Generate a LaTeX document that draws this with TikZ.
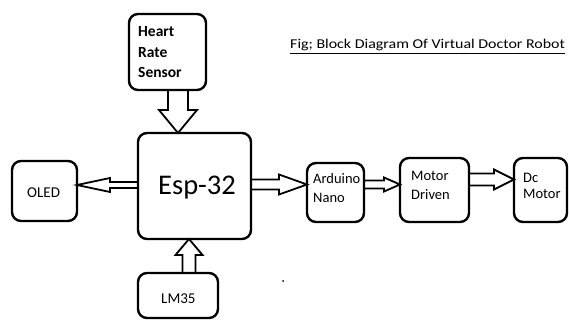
\documentclass[tikz,border=0pt]{standalone}
\usepackage{fontspec}
\setmainfont{Carlito}
\newfontfamily\titlefont[FakeStretch=1.18]{Carlito}
\usetikzlibrary{calc}
\newcommand\blockarr[5]{%
  \coordinate (bA) at ($(#2)!#5!(#1)$);
  \draw[barrow] ($(#1)!#3!90:(#2)$) -- ($(bA)!#3!90:(#2)$) -- ($(bA)!#4!90:(#2)$)
    -- (#2) -- ($(bA)!#4!-90:(#2)$) -- ($(bA)!#3!-90:(#2)$) -- ($(#1)!#3!-90:(#2)$) -- cycle;
}
\begin{document}
\begin{tikzpicture}[x=1pt,y=-1pt,
  box/.style={draw, line width=2.4pt, rounded corners=9pt, inner sep=0pt, outer sep=0pt},
  barrow/.style={draw, line width=1.8pt, line join=miter},
  lbl/.style={inner sep=0pt, anchor=base west, font=\fontsize{14.5}{19}\selectfont}]
\useasboundingbox (0,0) rectangle (569,320);
% boxes
\node[box, minimum width=77pt, minimum height=76pt] (hrs) at (167.5,52) {};
\node[box, minimum width=113pt, minimum height=106pt] (esp) at (194.5,186) {};
\node[box, minimum width=65pt, minimum height=60pt] (oled) at (44.5,191) {};
\node[box, minimum width=57pt, minimum height=59pt] (ard) at (335.5,192.5) {};
\node[box, minimum width=69pt, minimum height=64pt] (md) at (434.5,190) {};
\node[box, minimum width=53pt, minimum height=64pt] (dc) at (540.5,190) {};
\node[box, minimum width=80pt, minimum height=45pt] (lm) at (178,295.5) {};
% texts (anchor at baseline of last line)
\node[lbl, font=\fontsize{15.5}{20.5}\selectfont\bfseries, align=left] (hrst) at (138,78) {Heart\\Rate\\Sensor};
\node[lbl, font=\fontsize{28.5}{30}\selectfont] (espt) at (158,195) {Esp-32};
\node[lbl, font=\fontsize{15}{18}\selectfont] (oledt) at (27,197) {OLED};
\node[lbl, align=left] (ardt) at (313,202) {Arduino\\Nano};
\node[lbl, align=left] (mdt) at (411,200) {Motor\\Driven};
\node[lbl, align=left, font=\fontsize{14.5}{17}\selectfont] (dct) at (523,199) {Dc\\Motor};
\node[lbl, font=\fontsize{15}{18}\selectfont] (lmt) at (161,303) {LM35};
\node[lbl, font=\fontsize{13.5}{16}\titlefont] (title) at (290,49) {\underline{Fig; Block Diagram Of Virtual Doctor Robot}};
% arrows
\coordinate (a1s) at ($(hrs.south)+(10.5,0)$);
\coordinate (a1e) at (a1s |- esp.north);
\blockarr{a1s}{a1e}{10pt}{19pt}{23pt}
\coordinate (a2s) at ($(esp.west)+(0,-1)$);
\coordinate (a2e) at (a2s -| oled.east);
\blockarr{a2s}{a2e}{3pt}{7pt}{33pt}
\coordinate (a3s) at ($(esp.east)+(0,-1.5)$);
\coordinate (a3e) at (a3s -| ard.west);
\blockarr{a3s}{a3e}{5pt}{10pt}{28pt}
\coordinate (a4s) at ($(ard.east)+(0,-8)$);
\coordinate (a4e) at (a4s -| md.west);
\blockarr{a4s}{a4e}{4pt}{7pt}{16pt}
\coordinate (a5s) at ($(md.east)+(0,-10.5)$);
\coordinate (a5e) at (a5s -| dc.west);
\blockarr{a5s}{a5e}{6pt}{10pt}{20pt}
\coordinate (a6s) at ($(lm.north)+(11,0)$);
\coordinate (a6e) at (a6s |- esp.south);
\blockarr{a6s}{a6e}{6.5pt}{13.5pt}{16pt}
% dot
\fill (283,281) circle (1pt);
\end{tikzpicture}
\end{document}
